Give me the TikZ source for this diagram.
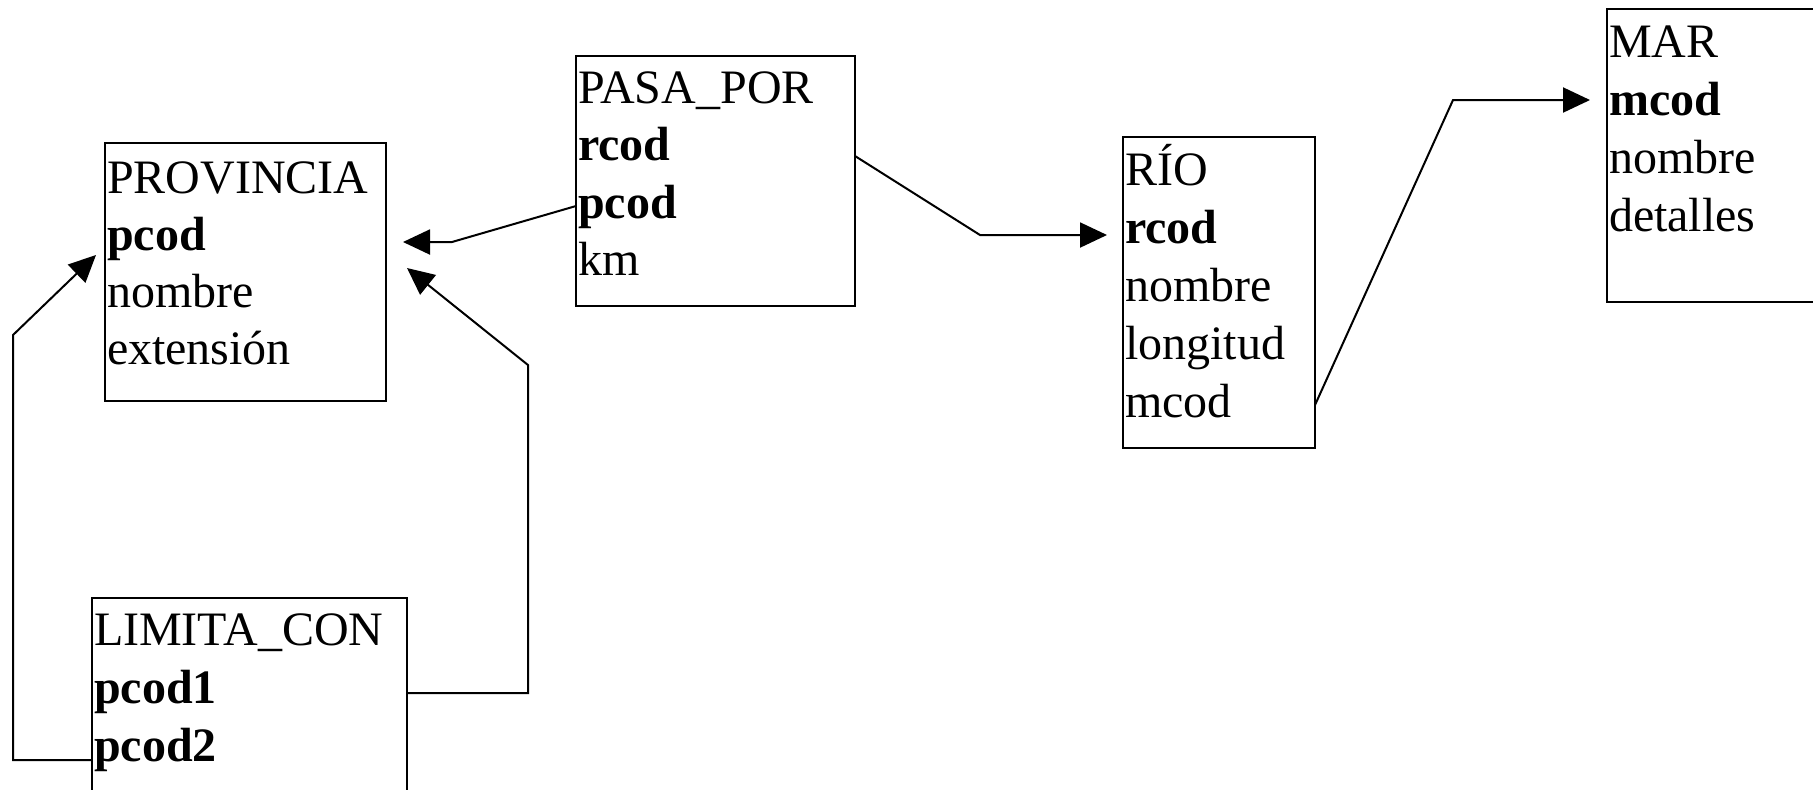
\documentclass[tikz,border=0pt]{standalone}
\usepackage{fontspec}
\setmainfont{Liberation Serif}
\usetikzlibrary{arrows.meta,calc}
\begin{document}
\begin{tikzpicture}[x=0.5pt,y=-0.5pt,
  tbl/.style={draw,line width=1pt,anchor=north west,inner sep=0pt,outer sep=0pt},
  row/.style={anchor=base west,inner sep=0pt,outer sep=0pt,font=\fontsize{24}{28.5}\selectfont},
  conn/.style={line width=1pt,-{Triangle[length=13.5pt,width=12.5pt]}}]
\clip (0,0) rectangle (1813,789);
\useasboundingbox (0,0) rectangle (1813,789);
% tables
\node[tbl,minimum width=140.5pt,minimum height=129pt] (prov) at (105,143) {};
\node[tbl,minimum width=139.5pt,minimum height=125pt] (pasa) at (576,56) {};
\node[tbl,minimum width=96pt,minimum height=155.5pt] (rio) at (1123,137) {};
\node[tbl,minimum width=111.5pt,minimum height=146.5pt] (mar) at (1607,9) {};
\node[tbl,minimum width=157.5pt,minimum height=116pt] (lim) at (92,598) {};
% PROVINCIA
\node[row] (prov1) at (107,193) {PROVINCIA};
\node[row] (prov2) at (107,250) {\textbf{pcod}};
\node[row] (prov3) at (107,307) {nombre};
\node[row] (prov4) at (107,364) {extensión};
% PASA_POR
\node[row] (pasa1) at (578,103) {PASA\_POR};
\node[row] (pasa2) at (578,160.5) {\textbf{rcod}};
\node[row] (pasa3) at (578,218) {\textbf{pcod}};
\node[row] (pasa4) at (578,275.5) {km};
% RIO
\node[row] (rio1) at (1125,185) {RÍO};
\node[row] (rio2) at (1125,243) {\textbf{rcod}};
\node[row] (rio3) at (1125,301) {nombre};
\node[row] (rio4) at (1125,359) {longitud};
\node[row] (rio5) at (1125,417) {mcod};
% MAR
\node[row] (mar1) at (1609,57) {MAR};
\node[row] (mar2) at (1609,115) {\textbf{mcod}};
\node[row] (mar3) at (1609,173) {nombre};
\node[row] (mar4) at (1609,231) {detalles};
% LIMITA_CON
\node[row] (lim1) at (94,645) {LIMITA\_CON};
\node[row] (lim2) at (94,703) {\textbf{pcod1}};
\node[row] (lim3) at (94,761) {\textbf{pcod2}};
% arrow tips
\coordinate (t1) at (403,242);
\coordinate (t2) at (407,268);
\coordinate (t3) at (96,255);
\coordinate (t4) at (1107,235);
\coordinate (t5) at (1590,100);
% connectors
\draw[conn] ($(pasa.north west)+(0,150)$) -- (452,242) -- (t1);
\draw[conn] ($(lim.north east)+(0,95)$) -- (528,693) -- (528,365) -- (t2);
\draw[conn] ($(lim.north west)+(0,162)$) -- (13,760) -- (13,335) -- (t3);
\draw[conn] ($(pasa.north east)+(0,100)$) -- (980,235) -- (t4);
\draw[conn] ($(rio.north east)+(0,268)$) -- (1453,100) -- (t5);
\end{tikzpicture}
\end{document}
